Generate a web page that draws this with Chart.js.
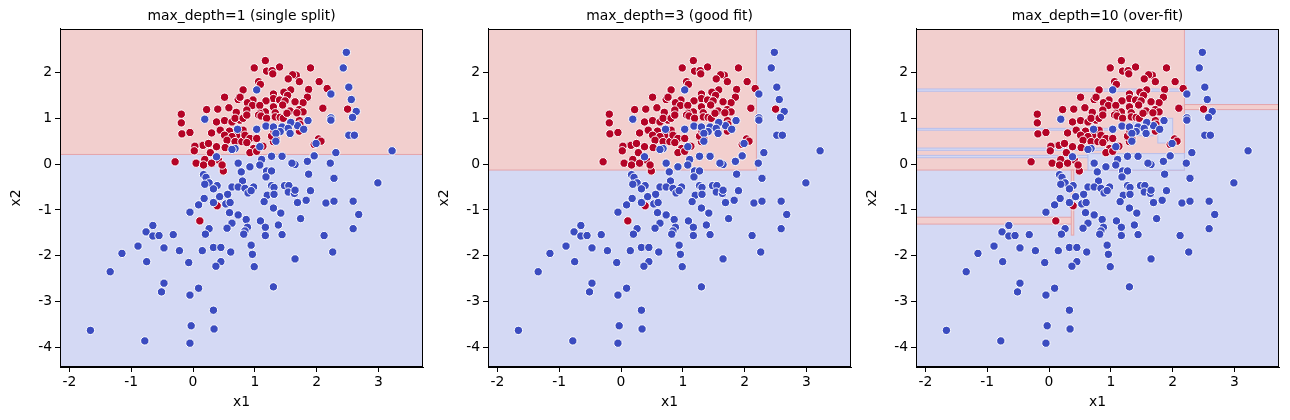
<!DOCTYPE html>
<html>
<head>
<meta charset="utf-8">
<script src="https://cdn.jsdelivr.net/npm/chart.js@4.4.0/dist/chart.umd.min.js"></script>
<style>
  body { margin: 0; background: #fff; }
  .panel { position: absolute; top: 0; }
</style>
</head>
<body>
<div class="panel" style="left:0px"><canvas id="c1" width="430" height="420"></canvas></div>
<div class="panel" style="left:428px"><canvas id="c2" width="430" height="420"></canvas></div>
<div class="panel" style="left:856px"><canvas id="c3" width="430" height="420"></canvas></div>
<script>
// axis extents and ticks
const xMin = -2.152, xMax = 3.72;
const yMin = -4.43, yMax = 2.95;
const xTicks = [-2, -1, 0, 1, 2, 3];
const yTicks = [-4, -3, -2, -1, 0, 1, 2];

// class 1 (red) samples
const redPts = [
  [-0.29,0.05],[0.49,-0.15],[0.39,-0.91],[0.11,-1.24],[1.90,2.10],[1.67,1.94],[1.72,1.80],[2.04,1.80],[2.17,1.65],
  [1.87,1.63],[1.85,1.46],[1.78,1.34],[1.65,1.36],[2.10,1.22],[2.50,1.20],[1.72,1.19],[1.78,1.14],[1.72,0.95],
  [1.73,0.87],[1.72,0.72],[2.03,0.55],[2.07,0.50],[1.96,0.43],[0.51,1.46],[0.81,1.62],[0.73,1.41],[0.76,1.46],
  [0.22,1.19],[0.40,1.20],[0.58,1.23],[0.70,1.13],[1.17,2.26],[0.99,2.10],[1.40,2.12],[1.19,2.03],[1.28,2.04],
  [1.29,1.97],[1.61,1.95],[1.54,1.86],[1.06,1.80],[1.09,1.74],[1.58,1.62],[1.47,1.57],[1.53,1.50],[1.30,1.53],
  [1.30,1.43],[0.97,1.40],[1.18,1.38],[1.40,1.40],[1.49,1.38],[0.88,1.34],[0.96,1.28],[1.08,1.28],[0.87,1.18],
  [1.30,1.25],[1.45,1.29],[1.57,1.16],[1.17,1.14],[1.33,1.12],[1.68,1.12],[1.08,1.11],[-0.19,1.09],[-0.19,0.90],
  [-0.18,0.66],[-0.05,0.69],[0.38,0.92],[0.51,0.95],[0.63,0.92],[0.76,0.96],[0.68,1.00],[0.30,0.68],[0.44,0.74],
  [0.59,0.72],[0.71,0.63],[0.51,0.63],[0.63,0.60],[0.55,0.52],[0.68,0.49],[0.79,0.49],[0.16,0.41],[0.03,0.39],
  [0.25,0.45],[0.38,0.38],[0.52,0.36],[0.02,0.29],[0.28,0.25],[0.41,0.09],[0.19,0.10],[0.05,0.02],[0.17,-0.02],
  [0.30,0.02],[0.47,-0.02],[0.81,1.00],[0.87,1.07],[1.06,1.07],[1.10,1.05],[1.19,1.00],[1.33,1.03],[1.41,1.02],
  [0.81,0.74],[0.84,0.63],[0.92,0.56],[0.87,0.47],[1.03,0.56],[1.30,0.49],[0.98,0.34],[0.92,0.25],[1.03,0.28],
  [1.13,0.39],[1.34,0.56],[1.27,0.61],[1.31,0.71],[1.46,1.00],[1.52,1.11]
];

// class 0 (blue) samples
const bluePts = [
  [-0.05,-1.05],[-0.65,-1.34],[-0.76,-1.48],[-0.65,-1.57],[-0.55,-1.56],[-0.32,-1.54],[-0.89,-1.79],[-0.47,-1.83],
  [-0.22,-1.89],[-1.15,-1.95],[-0.75,-2.13],[-0.07,-2.15],[-1.34,-2.35],[-0.47,-2.60],[-0.51,-2.79],[-0.05,-2.86],
  [-1.66,-3.63],[-0.78,-3.86],[-0.03,-3.53],[-0.05,-3.91],[0.78,-0.17],[1.19,-0.15],[1.27,-0.15],[0.17,-0.23],
  [0.21,-0.29],[0.26,-0.41],[0.80,-0.37],[1.18,-0.28],[0.19,-0.44],[0.39,-0.47],[0.33,-0.54],[0.63,-0.50],
  [0.73,-0.50],[0.84,-0.53],[0.98,-0.50],[0.89,-0.63],[0.94,-0.58],[1.27,-0.47],[1.31,-0.51],[1.48,-0.47],
  [1.55,-0.47],[1.54,-0.61],[1.64,-0.64],[1.20,-0.68],[1.31,-0.66],[0.56,-0.66],[0.43,-0.71],[0.18,-0.75],
  [0.33,-0.84],[0.53,-0.87],[0.60,-0.84],[1.15,-0.82],[1.69,-0.84],[0.09,-0.89],[0.59,-1.06],[0.73,-1.11],
  [1.30,-0.96],[1.42,-1.07],[0.86,-1.21],[1.09,-1.24],[0.63,-1.29],[0.55,-1.40],[0.88,-1.38],[0.84,-1.46],
  [0.82,-1.53],[1.17,-1.38],[1.38,-1.33],[0.26,-1.41],[0.20,-1.53],[1.17,-1.56],[1.44,-1.54],[0.15,-1.89],
  [0.33,-1.82],[0.45,-1.82],[0.61,-1.92],[0.94,-1.77],[0.96,-1.97],[0.45,-2.13],[0.37,-2.23],[0.99,-2.24],
  [1.65,-2.07],[0.09,-2.71],[1.30,-2.68],[0.33,-3.19],[0.34,-3.60],[2.48,2.44],[2.43,2.10],[2.23,1.53],
  [2.52,1.68],[2.56,1.41],[2.64,1.15],[2.58,1.02],[2.23,1.01],[2.23,0.96],[1.86,0.95],[1.69,0.84],[1.79,0.76],
  [2.52,0.63],[2.61,0.63],[1.99,0.45],[3.22,0.29],[2.31,0.25],[1.96,0.18],[1.85,0.06],[2.22,0.02],[1.65,-0.01],
  [1.87,-0.22],[2.28,-0.31],[2.99,-0.41],[1.65,-0.57],[1.90,-0.58],[1.83,-0.79],[2.15,-0.85],[2.28,-0.81],
  [2.59,-0.81],[2.68,-1.10],[1.74,-1.19],[2.59,-1.41],[2.12,-1.56],[2.26,-1.92],[1.03,1.62],[0.19,0.98],
  [0.72,0.76],[0.68,0.34],[0.63,0.32],[0.38,0.16],[0.73,0.02],[1.18,0.83],[1.30,0.81],[1.44,0.81],[1.58,0.91],
  [1.54,0.78],[1.41,0.71],[1.34,0.67],[1.57,0.67],[1.03,0.76],[1.08,0.38],[1.34,0.50],[1.11,0.10],[1.27,0.17],
  [1.44,0.17],[1.60,0.02],[0.92,-0.06],[1.08,-0.02]
];

// predicted regions per tree depth: [x0, x1, y0, y1]
const depth1Red = [[-3, 4, 0.21, 3]];
const depth1Blue = [];
const depth3Red = [[-3, 2.19, -0.13, 3]];
const depth3Blue = [];
const depth10Red = [
  [-3, 2.19, -0.13, 3], [2.19, 4, 1.19, 1.30], [-3, 0.37, -1.31, -1.16], [0.36, 0.40, -1.55, -0.13]
];
const depth10Blue = [
  [-3, 2.19, 1.59, 1.64], [-3, 1.10, 0.74, 0.78], [-3, 1.0, 0.30, 0.35], [-3, 0.63, 0.14, 0.19],
  [0.63, 2.19, -0.13, 0.23], [1.36, 1.70, 0.62, 0.92], [1.15, 1.36, 0.78, 0.86], [1.76, 2.0, 0.46, 1.0]
];

const RED = '#b40426', BLUE = '#3b4cc0';
const RED_BG = 'rgb(242,207,206)', BLUE_BG = 'rgb(212,217,244)';

Chart.defaults.font.family = 'DejaVu Sans';
Chart.defaults.color = '#000';

const regionPlugin = (redRects, blueRects) => ({
  id: 'regions',
  beforeDatasetsDraw(chart) {
    const { ctx, chartArea: a, scales: { x, y } } = chart;
    ctx.save();
    ctx.beginPath();
    ctx.rect(a.left, a.top, a.width, a.height);
    ctx.clip();
    ctx.fillStyle = BLUE_BG;
    ctx.fillRect(a.left, a.top, a.width, a.height);
    const paint = (rects, fill, edge) => rects.forEach(([x0, x1, y0, y1]) => {
      const px0 = x.getPixelForValue(x0), px1 = x.getPixelForValue(x1);
      const py0 = y.getPixelForValue(y0), py1 = y.getPixelForValue(y1);
      ctx.fillStyle = fill;
      ctx.fillRect(px0, py1, px1 - px0, py0 - py1);
      ctx.strokeStyle = edge;
      ctx.lineWidth = 1;
      ctx.strokeRect(px0, py1, px1 - px0, py0 - py1);
    });
    paint(redRects, RED_BG, 'rgba(228,160,165,0.9)');
    paint(blueRects, BLUE_BG, 'rgba(180,188,236,0.9)');
    ctx.restore();
  },
  afterDraw(chart) {
    const { ctx, chartArea: a } = chart;
    ctx.save();
    ctx.strokeStyle = '#000';
    ctx.lineWidth = 1;
    ctx.strokeRect(Math.round(a.left) + 0.5, Math.round(a.top) + 0.5, Math.round(a.width) - 1, Math.round(a.height) - 1);
    ctx.restore();
  }
});

const makeChart = (id, title, redRects, blueRects) => new Chart(document.getElementById(id), {
  type: 'scatter',
  data: {
    datasets: [
      { data: bluePts.map(([x, y]) => ({ x, y })), backgroundColor: BLUE, borderColor: '#fff', borderWidth: 1, pointRadius: 4.2 },
      { data: redPts.map(([x, y]) => ({ x, y })), backgroundColor: RED, borderColor: '#fff', borderWidth: 1, pointRadius: 4.2 }
    ]
  },
  options: {
    responsive: false,
    animation: false,
    layout: { padding: { right: 7 } },
    plugins: {
      legend: { display: false },
      tooltip: { enabled: false },
      title: { display: true, fullSize: false, text: title, font: { size: 13.9, weight: 'normal' }, padding: { top: 7.7, bottom: 4.6 } }
    },
    scales: {
      x: {
        type: 'linear', min: xMin, max: xMax,
        afterBuildTicks: s => { s.ticks = xTicks.map(v => ({ value: v })); },
        afterFit: s => { s.height = 53; },
        ticks: { font: { size: 13.9 }, padding: 2 },
        grid: { drawOnChartArea: false, tickLength: 5, color: '#000' },
        border: { color: '#000' },
        title: { display: true, text: 'x1', font: { size: 13.9 }, padding: { top: 2, bottom: 9.7 } }
      },
      y: {
        type: 'linear', min: yMin, max: yMax,
        afterBuildTicks: s => { s.ticks = yTicks.map(v => ({ value: v })); },
        afterFit: s => { s.width = 60; },
        ticks: { font: { size: 13.9 }, padding: 3 },
        grid: { drawOnChartArea: false, tickLength: 5, color: '#000' },
        border: { color: '#000' },
        title: { display: true, text: 'x2', font: { size: 13.9 }, padding: { top: 7.7, bottom: 2 } }
      }
    }
  },
  plugins: [regionPlugin(redRects, blueRects)]
});

makeChart('c1', 'max_depth=1 (single split)', depth1Red, depth1Blue);
makeChart('c2', 'max_depth=3 (good fit)', depth3Red, depth3Blue);
makeChart('c3', 'max_depth=10 (over-fit)', depth10Red, depth10Blue);
</script>
</body>
</html>
